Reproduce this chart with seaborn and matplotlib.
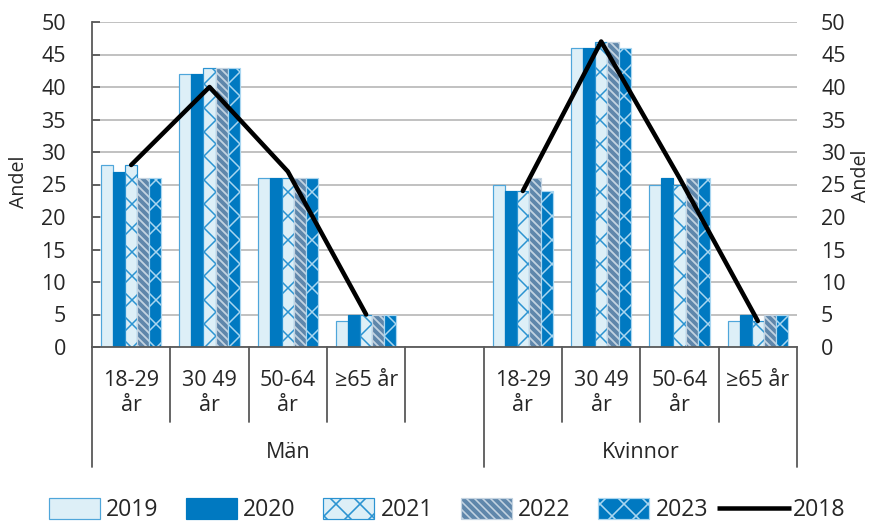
import matplotlib
matplotlib.use("Agg")
import matplotlib.pyplot as plt
import matplotlib.transforms as mtransforms
from matplotlib.patches import Patch
from matplotlib.lines import Line2D
from matplotlib.legend_handler import HandlerBase
import seaborn as sns
import pandas as pd

# ---- data ----
groups = ["Män", "Kvinnor"]
age_labels = ["18-29\når", "30 49\når", "50-64\når", "≥65 år"]
years = ["2019", "2020", "2021", "2022", "2023"]

man_2019 = [28, 42, 26, 4]
man_2020 = [27, 42, 26, 5]
man_2021 = [28, 43, 26, 5]
man_2022 = [26, 43, 26, 5]
man_2023 = [26, 43, 26, 5]

kv_2019 = [25, 46, 25, 4]
kv_2020 = [24, 46, 26, 5]
kv_2021 = [24, 47, 25, 4]
kv_2022 = [26, 47, 26, 5]
kv_2023 = [24, 46, 26, 5]

man_2018 = [28, 40, 27, 5]
kv_2018 = [24, 47, 26, 4]

yticks = [0, 5, 10, 15, 20, 25, 30, 35, 40, 45, 50]

# category slots (with an empty slot between the groups)
man_keys = ["M" + str(i) for i in range(4)]
kv_keys = ["K" + str(i) for i in range(4)]
order = man_keys + ["gap"] + kv_keys

rows = []
man_series = [man_2019, man_2020, man_2021, man_2022, man_2023]
kv_series = [kv_2019, kv_2020, kv_2021, kv_2022, kv_2023]
for y, ms, ks in zip(years, man_series, kv_series):
    for k, v in zip(man_keys, ms):
        rows.append({"cat": k, "year": y, "val": v})
    for k, v in zip(kv_keys, ks):
        rows.append({"cat": k, "year": y, "val": v})
df = pd.DataFrame(rows)

# ---- style (dpi 72: 1 pt == 1 px) ----
sns.set_theme(style="white")
plt.rcParams["font.family"] = ["Open Sans", "DejaVu Sans"]
plt.rcParams["hatch.linewidth"] = 1.6
FS = 21.5
LFS = 23
TXT = "#262626"
AX = "#595959"
W, H = 875, 526

fig = plt.figure(figsize=(W / 72, H / 72), dpi=72)
ax = fig.add_axes([92 / W, 1 - 347 / H, (797 - 92) / W, (347 - 22) / H])

styles = {
    "2019": dict(fc="#DDEFF7", ec="#4FA6DA", hatch=None, hc=None, hw=None),
    "2020": dict(fc="#0079C1", ec="#0079C1", hatch=None, hc=None, hw=None),
    "2021": dict(fc="#DDEFF7", ec="#2B93D1", hatch="x", hc="#2B93D1", hw=1.5),
    "2022": dict(fc="#5F87AB", ec="#2F6E9F", hatch="\\\\\\", hc="#C3D3E1", hw=1.8),
    "2023": dict(fc="#0079C1", ec="#0079C1", hatch="x", hc="#A9D6F0", hw=1.5),
}

sns.barplot(data=df, x="cat", y="val", hue="year", order=order, hue_order=years,
            width=0.774, dodge=True, ax=ax, legend=False, saturation=1, errorbar=None)


def style_patch(p, s):
    p.set_facecolor(s["fc"])
    p.set_linewidth(1.2)
    if s["hatch"]:
        p.set_hatch(s["hatch"])
        try:
            p.set_hatch_linewidth(s["hw"])
        except AttributeError:
            pass
        try:
            p.set_hatchcolor(s["hc"])
            p.set_edgecolor(s["ec"])
        except AttributeError:
            p.set_edgecolor(s["hc"])
    else:
        p.set_edgecolor(s["ec"])


for cont, y in zip(ax.containers, years):
    for p in cont.patches:
        style_patch(p, styles[y])

# 2018 line
for keys, vals in ((man_keys, man_2018), (kv_keys, kv_2018)):
    xs = [order.index(k) for k in keys]
    sns.lineplot(x=xs, y=vals, color="black", linewidth=4.5, ax=ax, legend=False,
                 solid_capstyle="round", zorder=5)

ax.set_xlim(-0.5, len(order) - 0.5)
ax.set_ylim(0, 50)
ax.set_yticks(yticks)
ax.set_yticklabels([str(t) for t in yticks], fontsize=FS, color=TXT)
ax.tick_params(axis="y", direction="in", length=8, width=1.8, color=AX, pad=26, left=True)
ax.set_xticks([])
ax.set_xlabel("")
ax.set_ylabel("")
ax.grid(axis="y", color="#BFBFBF", linewidth=1.9)
ax.set_axisbelow(True)
for s in ["top", "right"]:
    ax.spines[s].set_visible(False)
for s in ["left", "bottom"]:
    ax.spines[s].set_color(AX)
    ax.spines[s].set_linewidth(1.8)

# right axis
ax2 = ax.twinx()
ax2.set_ylim(0, 50)
ax2.set_yticks(yticks)
ax2.set_yticklabels([str(t) for t in yticks], fontsize=FS, color=TXT)
ax2.tick_params(axis="y", length=0, pad=24)
for s in ax2.spines.values():
    s.set_visible(False)
ax2.grid(False)

# axis titles
fig.text(19 / W, 1 - 182 / H, "Andel", rotation=90, ha="center", va="center",
         fontsize=19.5, color=TXT)
fig.text(861 / W, 1 - 176 / H, "Andel", rotation=90, ha="center", va="center",
         fontsize=19.5, color=TXT)

# multi-level category axis
trans = mtransforms.blended_transform_factory(ax.transData, ax.transAxes)
cat_labels = age_labels + [""] + age_labels
for i, lab in enumerate(cat_labels):
    if lab:
        ax.text(i, -0.072, lab, transform=trans, ha="center", va="top", fontsize=FS,
                color=TXT, linespacing=1.2)
short_y = -(422 - 347) / 325
long_y = -(467 - 347) / 325
for b in [x + 0.5 for x in range(-1, len(order))]:
    yb = long_y if b in (-0.5, 4.5, 8.5) else short_y
    ax.plot([b, b], [0, yb], transform=trans, clip_on=False, color=AX, lw=1.8)
ax.text(2.0, -(452 - 347) / 325, groups[0], transform=trans, ha="center",
        va="center", fontsize=FS, color=TXT)
ax.text(6.5, -(452 - 347) / 325, groups[1], transform=trans, ha="center",
        va="center", fontsize=FS, color=TXT)


# legend
class LongLineHandler(HandlerBase):
    def create_artists(self, legend, orig_handle, xdescent, ydescent, width, height,
                       fontsize, trans):
        y = height / 2 - ydescent
        ln = Line2D([-xdescent - 18, width - xdescent + 4], [y, y], color="black",
                    lw=4.5, solid_capstyle="butt")
        ln.set_transform(trans)
        return [ln]


handles = []
for y in years:
    s = styles[y]
    h = Patch(facecolor=s["fc"], edgecolor=s["hc"] or s["ec"], hatch=s["hatch"], label=y,
              linewidth=1.2)
    handles.append(h)
line_handle = Line2D([0], [0], color="black", lw=4.5, label="2018")
handles.append(line_handle)
fig.legend(handles=handles, loc="center", bbox_to_anchor=(447 / W, 1 - 510 / H),
           ncol=6, frameon=False, fontsize=LFS, handlelength=2.22, handleheight=1.0,
           handletextpad=0.27, columnspacing=1.2, labelcolor=TXT, borderpad=0.1,
           handler_map={line_handle: LongLineHandler()})

fig.savefig("out.png", dpi=72)
